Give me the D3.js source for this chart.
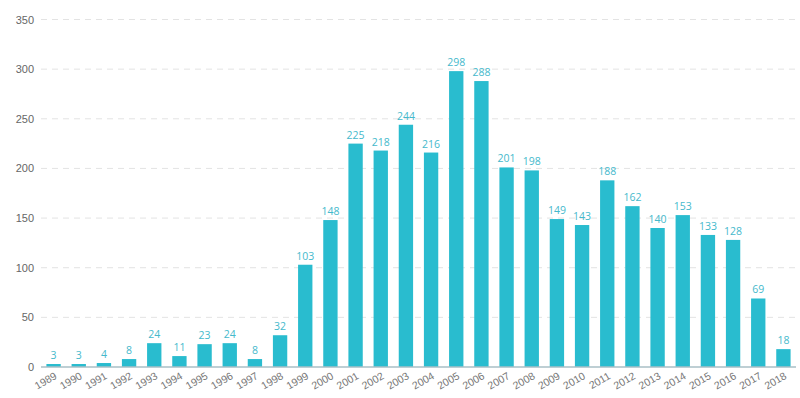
<!DOCTYPE html>
<html><head><meta charset="utf-8">
<script src="https://cdn.jsdelivr.net/npm/d3@7"></script>
<style>
body{margin:0;background:#fff;}
svg{display:block;font-family:"Open Sans","Noto Sans",sans-serif;}
</style></head>
<body><svg id="c" width="800" height="398"></svg>
<script>
const years = ["1989","1990","1991","1992","1993","1994","1995","1996","1997","1998","1999","2000","2001","2002","2003","2004","2005","2006","2007","2008","2009","2010","2011","2012","2013","2014","2015","2016","2017","2018"];
const counts = [3,3,4,8,24,11,23,24,8,32,103,148,225,218,244,216,298,288,201,198,149,143,188,162,140,153,133,128,69,18];
const yTicks = [0,50,100,150,200,250,300,350];

(function(){
const svg = d3.select("#c");
const mL = 41, mR = 796, mT = 19.5, mB = 367;
const x = d3.scaleBand().domain(years).range([mL, mR]).paddingInner(0.43).paddingOuter(0.215);
const y = d3.scaleLinear().domain([0, 350]).range([mB, mT]);

svg.append("g").selectAll("line").data(yTicks.filter(d => d > 0)).join("line")
  .attr("x1", mL).attr("x2", mR)
  .attr("y1", d => y(d)).attr("y2", d => y(d))
  .attr("stroke", "#e3e3e3").attr("stroke-dasharray", "6,5").attr("stroke-width", 1);

const yAxis = d3.axisLeft(y).tickValues(yTicks).tickSize(0).tickPadding(7);
const gy = svg.append("g").attr("transform", `translate(${mL},0)`).call(yAxis);
gy.select(".domain").remove();
gy.selectAll("text").attr("fill", "#666").style("font-size", "11px");

svg.append("g").selectAll("rect").data(counts).join("rect")
  .attr("x", (d, i) => x(years[i]))
  .attr("width", x.bandwidth())
  .attr("y", d => y(d))
  .attr("height", d => y(0) - y(d))
  .attr("fill", "#29bccf");

svg.append("g").selectAll("text").data(counts).join("text")
  .attr("x", (d, i) => x(years[i]) + x.bandwidth() / 2)
  .attr("y", d => y(d) - 5)
  .attr("text-anchor", "middle")
  .attr("fill", "#45b9cc")
  .style("font-size", "10.5px")
  .text(d => d);

const xAxis = d3.axisBottom(x).tickSize(0).tickPadding(0);
const gx = svg.append("g").attr("transform", `translate(0,${mB})`).call(xAxis);
gx.select(".domain").attr("stroke", "#a9bfc6").attr("stroke-width", 1.5).attr("d", `M${mL},0H${mR}`);
gx.selectAll("text")
  .attr("fill", "#777").style("font-size", "10.5px")
  .attr("text-anchor", "end")
  .attr("y", 0).attr("dy", 0)
  .attr("transform", "translate(4,11) rotate(-30)");
})();
</script></body></html>
